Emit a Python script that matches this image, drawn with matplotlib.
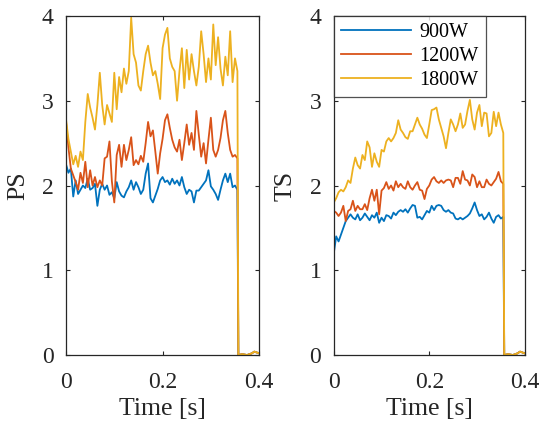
import numpy as np
import matplotlib
matplotlib.use('Agg')
import matplotlib.pyplot as plt

plt.rcParams['font.family'] = ['Liberation Serif', 'DejaVu Serif']

# sampling grid of the measured signals (s), tail after the pulse ends
t_grid = np.round(np.arange(72) * 0.005, 3)
t_tail = [0.357, 0.365, 0.375, 0.385, 0.39, 0.4]

labels = ['900W', '1200W', '1800W']
colors = ['#0072BD', '#D95319', '#EDB120']

# PS values
ps_900 = [2.25, 2.15, 2.20, 1.87, 2.06, 1.90, 1.95, 2.00, 1.97, 2.08, 1.95, 1.97,
          2.02, 1.76, 1.95, 2.02, 1.95, 2.00, 1.89, 1.92, 1.85, 2.04, 1.93, 1.88,
          1.86, 1.93, 1.98, 2.06, 1.95, 2.04, 1.98, 1.90, 1.95, 2.14, 2.26, 1.85,
          1.80, 1.88, 1.96, 2.06, 2.10, 2.04, 2.06, 2.01, 2.08, 2.02, 2.06, 2.00,
          2.10, 1.98, 1.90, 1.95, 1.93, 1.80, 1.94, 1.94, 1.98, 2.02, 2.06, 2.18,
          1.99, 1.95, 1.90, 1.83, 1.95, 2.06, 2.14, 2.04, 2.14, 1.98, 2.00, 1.95]
ps_1200 = [2.75, 2.45, 2.20, 2.12, 2.04, 1.95, 2.15, 2.03, 2.28, 1.98, 2.18, 2.00,
           2.10, 1.98, 2.06, 2.00, 2.32, 2.34, 2.52, 2.05, 1.80, 2.36, 2.48, 2.22,
           2.48, 2.30, 2.42, 2.57, 2.24, 2.30, 2.25, 2.35, 2.28, 2.50, 2.75, 2.58,
           2.65, 2.40, 2.14, 2.38, 2.55, 2.77, 2.84, 2.68, 2.54, 2.45, 2.40, 2.54,
           2.30, 2.50, 2.72, 2.48, 2.62, 2.42, 2.88, 2.60, 2.34, 2.50, 2.26, 2.54,
           2.80, 2.42, 2.34, 2.42, 2.56, 2.77, 2.88, 2.62, 2.42, 2.34, 2.36, 2.32]
ps_1800 = [2.78, 2.55, 2.40, 2.25, 2.35, 2.22, 2.40, 2.30, 2.75, 3.08, 2.92, 2.80,
           2.66, 2.95, 3.33, 2.95, 2.72, 2.95, 2.85, 2.75, 3.33, 2.90, 3.28, 3.10,
           3.38, 3.20, 3.35, 3.98, 3.55, 3.45, 3.18, 3.12, 3.35, 3.55, 3.65, 3.45,
           3.30, 3.35, 3.20, 3.02, 3.62, 3.78, 3.86, 3.50, 3.40, 3.35, 3.00, 3.35,
           3.62, 3.15, 3.60, 3.25, 3.55, 3.35, 3.18, 3.40, 3.82, 3.55, 3.22, 3.50,
           3.25, 3.90, 3.42, 3.75, 3.38, 3.18, 3.52, 3.30, 3.82, 3.22, 3.50, 3.35]

# TS values
ts_900 = [1.20, 1.40, 1.34, 1.42, 1.50, 1.58, 1.62, 1.66, 1.62, 1.60, 1.66, 1.59,
          1.62, 1.67, 1.63, 1.59, 1.65, 1.62, 1.68, 1.56, 1.62, 1.58, 1.65, 1.64,
          1.61, 1.68, 1.65, 1.69, 1.71, 1.69, 1.72, 1.68, 1.73, 1.77, 1.76, 1.62,
          1.63, 1.60, 1.65, 1.70, 1.68, 1.76, 1.71, 1.76, 1.77, 1.76, 1.71, 1.69,
          1.71, 1.68, 1.67, 1.61, 1.60, 1.62, 1.60, 1.62, 1.64, 1.67, 1.73, 1.80,
          1.71, 1.64, 1.66, 1.60, 1.63, 1.68, 1.61, 1.56, 1.63, 1.65, 1.61, 1.63]
ts_1200 = [1.70, 1.68, 1.64, 1.68, 1.76, 1.58, 1.70, 1.72, 1.82, 1.70, 1.76, 1.72,
           1.72, 1.78, 1.71, 1.85, 1.95, 1.82, 1.95, 1.66, 1.94, 1.97, 2.04, 1.96,
           2.00, 1.94, 2.05, 1.98, 2.02, 1.98, 1.96, 2.05, 1.98, 1.95, 2.00, 2.04,
           1.95, 1.94, 1.84, 1.96, 2.00, 2.07, 2.10, 2.05, 2.03, 2.06, 2.03, 2.06,
           2.07, 2.06, 1.98, 2.09, 2.09, 2.02, 2.17, 2.07, 2.06, 2.00, 2.13, 2.10,
           1.98, 2.05, 1.98, 1.98, 2.07, 2.02, 2.00, 2.04, 2.08, 2.16, 2.05, 2.02]
ts_1800 = [1.80, 1.85, 1.92, 1.95, 1.93, 1.98, 2.06, 2.03, 2.20, 2.33, 2.24, 2.20,
           2.36, 2.30, 2.52, 2.45, 2.22, 2.38, 2.28, 2.22, 2.42, 2.40, 2.52, 2.56,
           2.52, 2.56, 2.62, 2.77, 2.66, 2.62, 2.57, 2.55, 2.64, 2.64, 2.72, 2.80,
           2.72, 2.67, 2.60, 2.56, 2.72, 2.89, 2.90, 2.92, 2.78, 2.68, 2.58, 2.44,
           2.62, 2.78, 2.72, 2.64, 2.72, 2.85, 2.68, 2.72, 2.88, 3.01, 2.78, 2.66,
           2.86, 2.95, 2.70, 2.86, 2.85, 2.58, 2.62, 2.87, 2.70, 2.86, 2.72, 2.62]

tail_vals = [0.0, 0.01, 0.0, 0.02, 0.04, 0.02]

fig = plt.figure(figsize=(5.41, 4.30), dpi=100)
ax1 = fig.add_axes([0.122, 0.1744, 0.357, 0.7884])
ax2 = fig.add_axes([0.617, 0.1744, 0.353, 0.7884])

t_full = np.concatenate([[0.0], t_grid, t_tail])

for ax, series, ylab in [(ax1, [ps_900, ps_1200, ps_1800], 'PS'),
                         (ax2, [ts_900, ts_1200, ts_1800], 'TS')]:
    for vals, c, lab in zip(series, colors, labels):
        y = np.concatenate([[0.0], vals, tail_vals])
        ax.plot(t_full, y, color=c, lw=1.3, label=lab)
    ax.set_xlim(0, 0.4)
    ax.set_ylim(0, 4)
    ax.set_xticks([0, 0.2, 0.4])
    ax.set_xticklabels(['0', '0.2', '0.4'])
    ax.set_yticks([0, 1, 2, 3, 4])
    ax.tick_params(direction='in', top=True, right=True, length=3, width=0.8,
                   labelsize=17, colors='#262626')
    ax.tick_params(axis='x', pad=12)
    ax.tick_params(axis='y', pad=9)
    for s in ax.spines.values():
        s.set_color('#262626')
        s.set_linewidth(0.9)
    ax.set_xlabel('Time [s]', fontsize=18.5, color='#262626', labelpad=4)
    ax.set_ylabel(ylab, fontsize=18.5, color='#262626', labelpad=9)

leg = ax2.legend(loc='upper left', borderaxespad=0, fontsize=14.5, frameon=True,
                 fancybox=False, edgecolor='#262626', handlelength=3.5,
                 labelspacing=0.25, borderpad=0.35, handletextpad=0.4)
leg.get_frame().set_linewidth(0.9)

fig.savefig('out.png', dpi=100)
